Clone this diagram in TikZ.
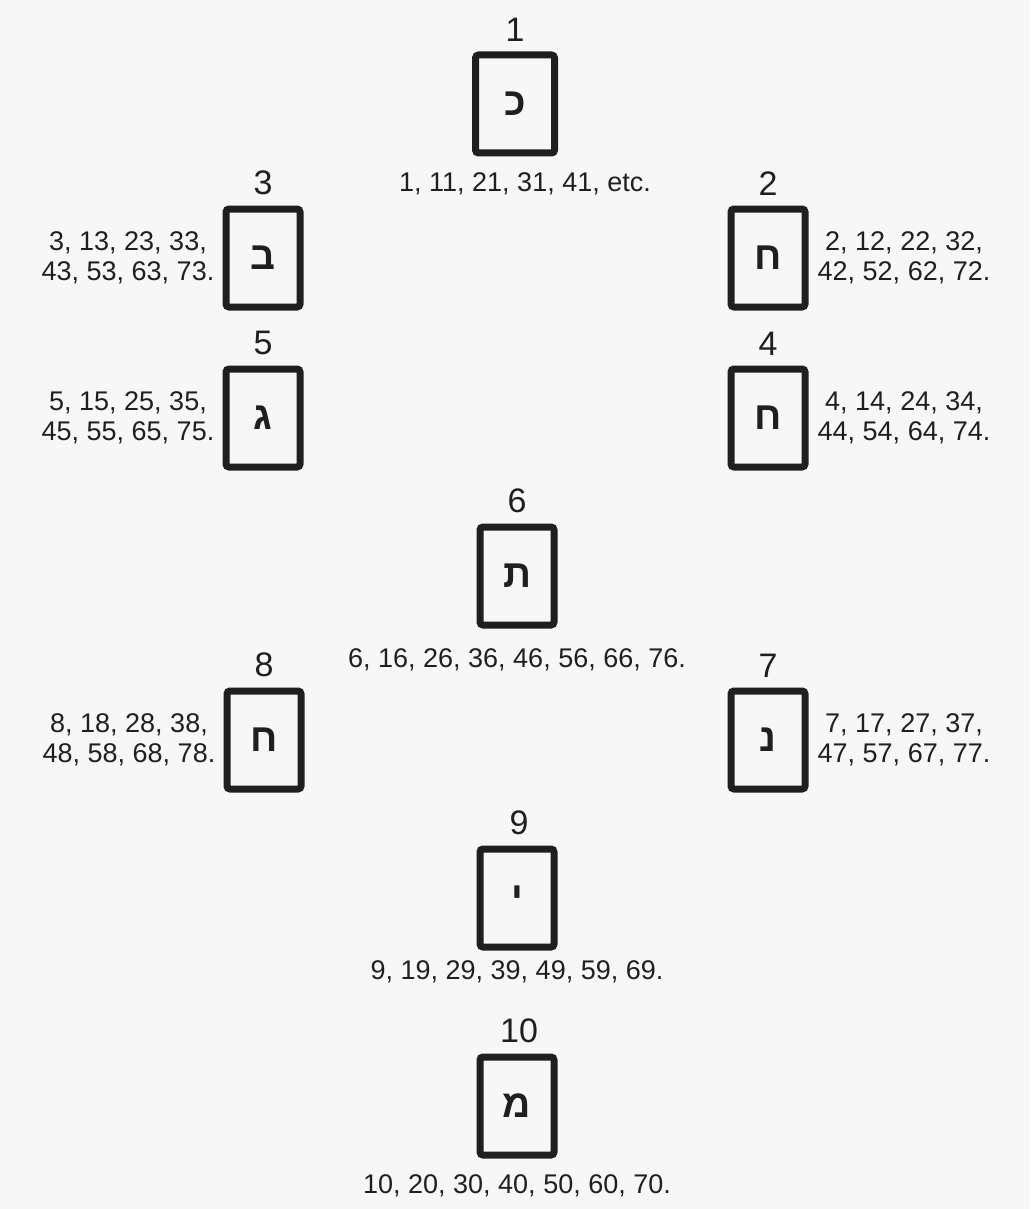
\documentclass[tikz,border=0pt]{standalone}
\usepackage{fontspec}
\setmainfont{Liberation Sans}
\newfontfamily\hebfont[Script=Hebrew]{Liberation Sans}
\TeXXeTstate=1
\usetikzlibrary{positioning}

\begin{document}
\begin{tikzpicture}[x=1pt,y=1pt]
\tikzset{
  card/.style={draw=black!88,line width=7pt,rounded corners=3pt,minimum width=74pt,minimum height=98pt,inner sep=0pt,text=black!88,font=\hebfont\bfseries\fontsize{39}{39}\selectfont},
  cardnum/.style={inner sep=0pt,text=black!88,font=\fontsize{34}{34}\selectfont},
  cardvals/.style={inner sep=0pt,align=center,text=black!88,font=\fontsize{27}{30}\selectfont}
}
\fill[black!3] (0,0) rectangle (1030,-1209);
\useasboundingbox (0,0) rectangle (1030,-1209);
% cards
\node[card,minimum width=79pt] (c_1) at (515,-104) {\beginR כ\endR};
\node[card] (c_2) at (768,-258) {\beginR ח\endR};
\node[card] (c_3) at (263,-258) {\beginR ב\endR};
\node[card] (c_4) at (768,-418) {\beginR ח\endR};
\node[card] (c_5) at (263,-418) {\beginR ג\endR};
\node[card] (c_6) at (517,-576) {\beginR ת\endR};
\node[card] (c_7) at (768,-740) {\beginR נ\endR};
\node[card] (c_8) at (264,-740) {\beginR ח\endR};
\node[card] (c_9) at (517,-898) {\beginR י\endR};
\node[card] (c_10) at (517,-1106) {\beginR מ\endR};
% numbers
\node[cardnum,above=10pt of c_1] (n_1) {1};
\node[cardnum,above=10pt of c_2] (n_2) {2};
\node[cardnum,above=10pt of c_3] (n_3) {3};
\node[cardnum,above=10pt of c_4] (n_4) {4};
\node[cardnum,above=10pt of c_5] (n_5) {5};
\node[cardnum,above=10pt of c_6] (n_6) {6};
\node[cardnum,above=10pt of c_7] (n_7) {7};
\node[cardnum,above=10pt of c_8] (n_8) {8};
\node[cardnum,above=10pt of c_9,xshift=2pt] (n_9) {9};
\node[cardnum,above=10pt of c_10,xshift=2pt] (n_10) {10};
% values
\node[cardvals,below=16pt of c_1,xshift=10pt] (v_1) {1, 11, 21, 31, 41, etc.};
\node[cardvals,right=9pt of c_2] (v_2) {2, 12, 22, 32,\\42, 52, 62, 72.};
\node[cardvals,left=8pt of c_3] (v_3) {3, 13, 23, 33,\\43, 53, 63, 73.};
\node[cardvals,right=9pt of c_4] (v_4) {4, 14, 24, 34,\\44, 54, 64, 74.};
\node[cardvals,left=8pt of c_5] (v_5) {5, 15, 25, 35,\\45, 55, 65, 75.};
\node[cardvals,below=20pt of c_6] (v_6) {6, 16, 26, 36, 46, 56, 66, 76.};
\node[cardvals,right=9pt of c_7] (v_7) {7, 17, 27, 37,\\47, 57, 67, 77.};
\node[cardvals,left=8pt of c_8] (v_8) {8, 18, 28, 38,\\48, 58, 68, 78.};
\node[cardvals,below=10pt of c_9] (v_9) {9, 19, 29, 39, 49, 59, 69.};
\node[cardvals,below=16pt of c_10] (v_10) {10, 20, 30, 40, 50, 60, 70.};
\end{tikzpicture}
\end{document}
